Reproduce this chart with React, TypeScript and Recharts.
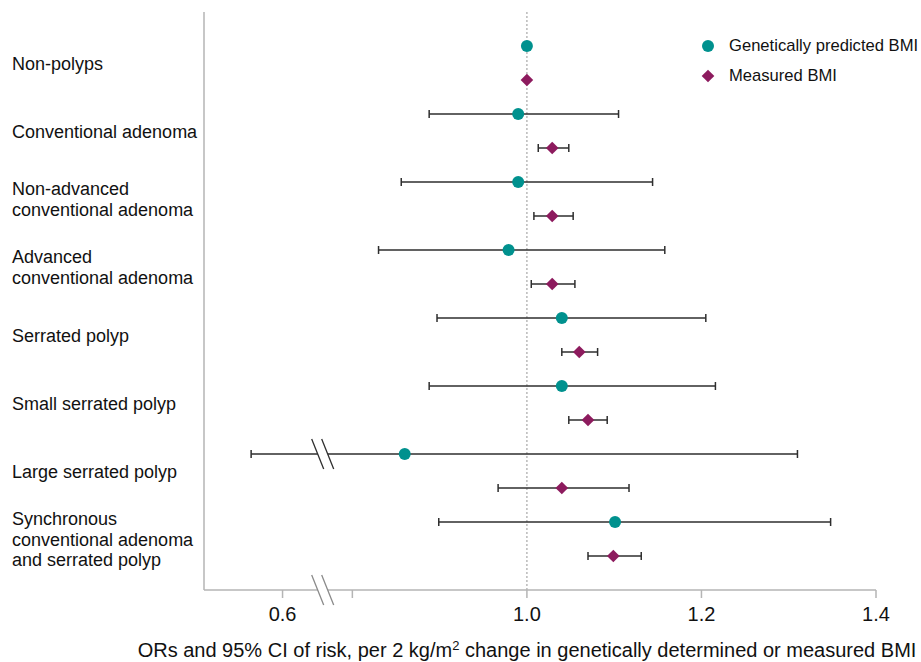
import {
  ErrorBar,
  Label,
  Legend,
  ReferenceDot,
  ReferenceLine,
  Scatter,
  ScatterChart,
  XAxis,
  YAxis,
} from "recharts";

const FONT = '"Liberation Sans", Arial, Helvetica, sans-serif';
const TEAL = "#00918e";
const PLUM = "#8d1b5e";
const AXIS_GREY = "#b5b5b5";
const CI_COLOR = "#2e2e2e";
const TEXT = "#111";

const categories = [
  "Non-polyps",
  "Conventional adenoma",
  "Non-advanced\nconventional adenoma",
  "Advanced\nconventional adenoma",
  "Serrated polyp",
  "Small serrated polyp",
  "Large serrated polyp",
  "Synchronous\nconventional adenoma\nand serrated polyp",
];

// genetically predicted BMI, OR and 95% CI (reference group has no CI)
const geneticOR = [1.0, 0.99, 0.99, 0.979, 1.04, 1.04, 0.86, 1.101];
const geneticLow = [null, 0.888, 0.856, 0.83, 0.897, 0.888, 0.564, 0.899];
const geneticHigh = [null, 1.105, 1.144, 1.158, 1.205, 1.216, 1.31, 1.348];

// measured BMI
const measuredOR = [1.0, 1.029, 1.029, 1.029, 1.06, 1.07, 1.04, 1.099];
const measuredLow = [null, 1.013, 1.008, 1.005, 1.04, 1.048, 0.967, 1.07];
const measuredHigh = [null, 1.048, 1.053, 1.055, 1.081, 1.092, 1.117, 1.131];

const tickValues = [0.6, 0.8, 1.0, 1.2, 1.4];
const tickLabels = ["0.6", "", "1.0", "1.2", "1.4"];

const legendItems = [
  { name: "Genetically predicted BMI", color: TEAL, shape: "circle" },
  { name: "Measured BMI", color: PLUM, shape: "diamond" },
];

// axis break: everything below ~0.7 is pulled right so 0.6 sits just left of the gap
const BREAK_SHIFT = 0.12;
const BREAK_AT = 0.766;
const toAxis = (v: number) => (v < 0.7 ? v + BREAK_SHIFT : v);

type Row = { x: number; y: number; err?: [number, number] };

function buildRows(
  or: number[],
  low: (number | null)[],
  high: (number | null)[],
  offset: number,
): Row[] {
  return or.map((v, i) => {
    const lo = low[i];
    const hi = high[i];
    const row: Row = { x: toAxis(v), y: i * 2 + offset };
    if (lo != null && hi != null) {
      row.err = [toAxis(v) - toAxis(lo), toAxis(hi) - toAxis(v)];
    }
    return row;
  });
}

const geneticRows = buildRows(geneticOR, geneticLow, geneticHigh, 0);
const measuredRows = buildRows(measuredOR, measuredLow, measuredHigh, 1);

const LINE_H = 20.5;

function CategoryTick({ y, payload }: { y?: number; payload?: { value: number } }) {
  const idx = Math.round(((payload?.value ?? 0.5) - 0.5) / 2);
  const lines = (categories[idx] ?? "").split("\n");
  const first = -((lines.length - 1) * LINE_H) / 2 + 6.5;
  return (
    <text x={12} y={y} fontSize={18} fill={TEXT} fontFamily={FONT}>
      {lines.map((l, i) => (
        <tspan key={i} x={12} dy={i === 0 ? first : LINE_H}>
          {l}
        </tspan>
      ))}
    </text>
  );
}

const noShape = () => <g />;

const circleShape = (p: { cx?: number; cy?: number }) => (
  <circle cx={p.cx} cy={p.cy} r={6} fill={TEAL} />
);

const diamondShape = (p: { cx?: number; cy?: number }) => {
  const cx = p.cx ?? 0;
  const cy = p.cy ?? 0;
  const s = 6.3;
  return (
    <polygon
      points={`${cx},${cy - s} ${cx + s},${cy} ${cx},${cy + s} ${cx - s},${cy}`}
      fill={PLUM}
    />
  );
};

function BreakMark({ cx = 0, cy = 0, color }: { cx?: number; cy?: number; color: string }) {
  return (
    <g>
      <polygon
        points={`${cx - 10},${cy - 15} ${cx},${cy - 15} ${cx + 10},${cy + 15} ${cx},${cy + 15}`}
        fill="#fff"
      />
      <line x1={cx - 11} y1={cy - 15} x2={cx + 1} y2={cy + 15} stroke={color} strokeWidth={1.3} />
      <line x1={cx - 1} y1={cy - 15} x2={cx + 11} y2={cy + 15} stroke={color} strokeWidth={1.3} />
    </g>
  );
}

function LegendBox() {
  return (
    <div style={{ fontFamily: FONT, fontSize: 16.6, color: TEXT }}>
      {legendItems.map((item) => (
        <div
          key={item.name}
          style={{ display: "flex", alignItems: "center", height: 30 }}
        >
          <svg width={14} height={14}>
            {item.shape === "circle" ? (
              <circle cx={7} cy={7} r={6} fill={item.color} />
            ) : (
              <polygon points="7,0.7 13.3,7 7,13.3 0.7,7" fill={item.color} />
            )}
          </svg>
          <span style={{ marginLeft: 14, whiteSpace: "nowrap" }}>{item.name}</span>
        </div>
      ))}
    </div>
  );
}

function AxisTitle({ viewBox }: { viewBox?: { x: number; y: number; width: number } }) {
  if (!viewBox) return null;
  return (
    <text
      x={viewBox.x + viewBox.width / 2 - 13}
      y={viewBox.y + 67}
      textAnchor="middle"
      fontSize={20}
      fill={TEXT}
      fontFamily={FONT}
    >
      ORs and 95% CI of risk, per 2 kg/m
      <tspan fontSize={13} dy={-7}>2</tspan>
      <tspan dy={7}> change in genetically determined or measured BMI</tspan>
    </text>
  );
}

export default function App() {
  return (
    <div
      style={{
        position: "absolute",
        left: 0,
        top: 0,
        width: 921,
        height: 662,
        background: "#fff",
      }}
    >
      <ScatterChart
        width={921}
        height={662}
        margin={{ top: 12, right: 45, bottom: 0, left: 0 }}
      >
        <XAxis
          type="number"
          dataKey="x"
          domain={[0.63, 1.4]}
          allowDataOverflow
          ticks={tickValues.map(toAxis)}
          tickFormatter={(v: number) => {
            const i = tickValues.findIndex((t) => Math.abs(toAxis(t) - v) < 1e-6);
            return i >= 0 ? tickLabels[i] : "";
          }}
          height={72}
          tickSize={8}
          tickMargin={9}
          stroke={AXIS_GREY}
          axisLine={{ stroke: AXIS_GREY, strokeWidth: 1.5 }}
          tickLine={{ stroke: AXIS_GREY, strokeWidth: 1.5 }}
          tick={{ fontSize: 20, fill: TEXT, fontFamily: FONT }}
        >
          <Label content={AxisTitle} />
        </XAxis>
        <YAxis
          type="number"
          dataKey="y"
          domain={[-1, 16]}
          reversed
          width={204}
          ticks={categories.map((_, i) => i * 2 + 0.5)}
          interval={0}
          tickLine={false}
          axisLine={{ stroke: AXIS_GREY, strokeWidth: 1.5 }}
          tick={(props: any) => <CategoryTick {...props} />}
        />

        <ReferenceLine
          x={1}
          stroke="#a8a8a8"
          strokeWidth={1.2}
          strokeDasharray="2 2"
        />

        <Legend
          layout="vertical"
          align="center"
          verticalAlign="middle"
          wrapperStyle={{ top: 31, left: 701, width: 220 }}
          content={() => <LegendBox />}
        />

        <Scatter
          data={geneticRows.filter((r) => r.err)}
          shape={noShape}
          legendType="none"
          isAnimationActive={false}
        >
          <ErrorBar
            dataKey="err"
            direction="x"
            width={4}
            stroke={CI_COLOR}
            strokeWidth={1.5}
            isAnimationActive={false}
          />
        </Scatter>
        <Scatter
          data={measuredRows.filter((r) => r.err)}
          shape={noShape}
          legendType="none"
          isAnimationActive={false}
        >
          <ErrorBar
            dataKey="err"
            direction="x"
            width={4}
            stroke={CI_COLOR}
            strokeWidth={1.5}
            isAnimationActive={false}
          />
        </Scatter>

        <Scatter
          name="Genetically predicted BMI"
          data={geneticRows}
          shape={circleShape}
          isAnimationActive={false}
        />
        <Scatter
          name="Measured BMI"
          data={measuredRows}
          shape={diamondShape}
          isAnimationActive={false}
        />

        <ReferenceDot
          x={BREAK_AT}
          y={12}
          ifOverflow="visible"
          shape={(p: any) => <BreakMark cx={p.cx} cy={p.cy} color={CI_COLOR} />}
        />
        <ReferenceDot
          x={BREAK_AT}
          y={16}
          ifOverflow="visible"
          shape={(p: any) => <BreakMark cx={p.cx} cy={p.cy} color="#8a8a8a" />}
        />
      </ScatterChart>
    </div>
  );
}
